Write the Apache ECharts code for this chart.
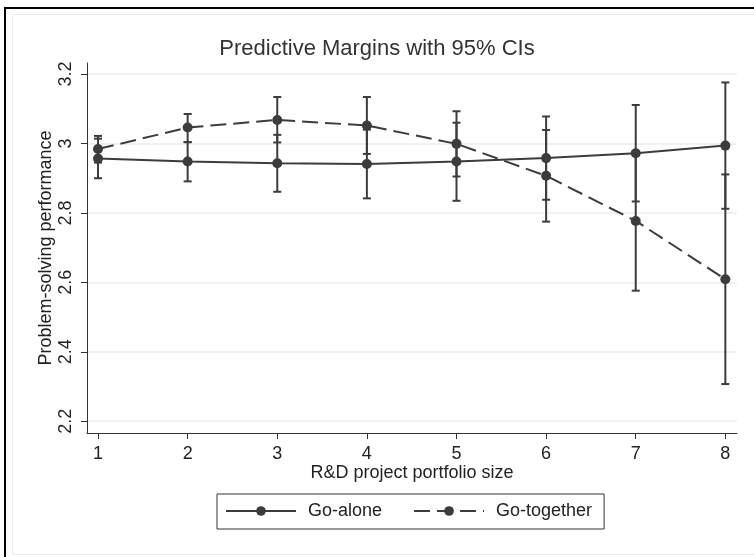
<!DOCTYPE html>
<html>
<head>
<meta charset="utf-8">
<script src="https://cdn.jsdelivr.net/npm/echarts@6/dist/echarts.min.js"></script>
<style>
html,body{margin:0;padding:0;background:#fff;}
#chart{width:754px;height:557px;}
</style>
</head>
<body>
<div id="chart"></div>
<script>
var portfolioSize = [1, 2, 3, 4, 5, 6, 7, 8];
var yTicks = [2.2, 2.4, 2.6, 2.8, 3.0, 3.2];

var aloneMean = [2.957, 2.948, 2.943, 2.941, 2.948, 2.958, 2.972, 2.994];
var aloneLow  = [2.900, 2.891, 2.861, 2.842, 2.835, 2.838, 2.833, 2.812];
var aloneHigh = [3.014, 3.004, 3.025, 3.040, 3.060, 3.078, 3.111, 3.176];

var togMean = [2.984, 3.046, 3.068, 3.052, 2.999, 2.907, 2.777, 2.609];
var togLow  = [2.945, 3.004, 3.003, 2.970, 2.905, 2.775, 2.576, 2.307];
var togHigh = [3.022, 3.085, 3.134, 3.134, 3.093, 3.039, 2.978, 2.911];

var FONT = 'Liberation Sans, Arial, sans-serif';
var INK = '#3c3c3c';

function pts(mean) { return portfolioSize.map(function (x, i) { return [x, mean[i]]; }); }
function ci(low, high) { return portfolioSize.map(function (x, i) { return [x, low[i], high[i]]; }); }

function renderCI(params, api) {
  var x = api.value(0);
  var lo = api.coord([x, api.value(1)]);
  var hi = api.coord([x, api.value(2)]);
  var hw = 4;
  var style = { stroke: INK, lineWidth: 2 };
  return {
    type: 'group',
    children: [
      { type: 'line', shape: { x1: lo[0], y1: lo[1], x2: hi[0], y2: hi[1] }, style: style },
      { type: 'line', shape: { x1: lo[0] - hw, y1: lo[1], x2: lo[0] + hw, y2: lo[1] }, style: style },
      { type: 'line', shape: { x1: hi[0] - hw, y1: hi[1], x2: hi[0] + hw, y2: hi[1] }, style: style }
    ]
  };
}

var chart = echarts.init(document.getElementById('chart'), null, { renderer: 'canvas' });

chart.setOption({
  backgroundColor: '#fff',
  animation: false,
  title: {
    text: 'Predictive Margins with 95% CIs',
    left: 'center',
    top: 33,
    textStyle: { fontFamily: FONT, fontSize: 22, fontWeight: 'normal', color: '#333' }
  },
  graphic: [
    { type: 'line', shape: { x1: 5, y1: 7, x2: 5, y2: 557 }, style: { stroke: '#000', lineWidth: 2 } },
    { type: 'line', shape: { x1: 4, y1: 8, x2: 754, y2: 8 }, style: { stroke: '#000', lineWidth: 2 } },
    { type: 'line', shape: { x1: 12.5, y1: 14, x2: 12.5, y2: 554 }, style: { stroke: '#ececec', lineWidth: 1 } },
    { type: 'line', shape: { x1: 12, y1: 14.5, x2: 754, y2: 14.5 }, style: { stroke: '#ececec', lineWidth: 1 } },
    { type: 'line', shape: { x1: 12, y1: 554.5, x2: 754, y2: 554.5 }, style: { stroke: '#ececec', lineWidth: 1 } }
  ],
  legend: {
    data: ['Go-alone', 'Go-together'],
    left: 217,
    top: 494,
    orient: 'horizontal',
    padding: [8, 12, 9, 8],
    itemWidth: 70,
    itemHeight: 12,
    itemGap: 31,
    borderColor: '#333',
    borderWidth: 1,
    textStyle: { fontFamily: FONT, fontSize: 18, color: '#222', padding: [0, 0, 0, 7] }
  },
  grid: { left: 87, right: 17, top: 63, bottom: 124 },
  xAxis: {
    type: 'value',
    min: 0.877,
    max: 8.13,
    name: 'R&D project portfolio size',
    nameLocation: 'middle',
    nameGap: 31,
    nameMoveOverlap: false,
    nameTextStyle: { fontFamily: FONT, fontSize: 18, color: '#222' },
    axisLine: { show: true, lineStyle: { color: '#333', width: 1 } },
    axisTick: { show: true, length: 6, customValues: portfolioSize, lineStyle: { color: '#333' } },
    axisLabel: { customValues: portfolioSize, margin: 12, fontFamily: FONT, fontSize: 18, color: '#222' },
    splitLine: { show: false }
  },
  yAxis: {
    type: 'value',
    min: 2.166,
    max: 3.232,
    name: 'Problem-solving performance',
    nameLocation: 'middle',
    nameGap: 32,
    nameMoveOverlap: false,
    nameRotate: 90,
    nameTextStyle: { fontFamily: FONT, fontSize: 18, color: '#222' },
    axisLine: { show: true, lineStyle: { color: '#333', width: 1 } },
    axisTick: { show: true, length: 6, customValues: yTicks, lineStyle: { color: '#333' } },
    axisLabel: { customValues: yTicks, rotate: 90, margin: 12, fontFamily: FONT, fontSize: 18, color: '#222',
      formatter: function (v) { return String(Math.round(v * 10) / 10); } },
    splitLine: { show: true, lineStyle: { color: '#ececec', width: 1.5 } }
  },
  series: [
    { name: 'ci-alone', type: 'custom', renderItem: renderCI, data: ci(aloneLow, aloneHigh), z: 2, silent: true },
    { name: 'ci-together', type: 'custom', renderItem: renderCI, data: ci(togLow, togHigh), z: 2, silent: true },
    {
      name: 'Go-alone', type: 'line', data: pts(aloneMean), z: 3,
      symbol: 'circle', symbolSize: 10,
      itemStyle: { color: INK },
      lineStyle: { color: INK, width: 2, type: 'solid' }
    },
    {
      name: 'Go-together', type: 'line', data: pts(togMean), z: 3,
      symbol: 'circle', symbolSize: 10,
      itemStyle: { color: INK },
      lineStyle: { color: INK, width: 2, type: [16, 7] }
    }
  ]
});
</script>
</body>
</html>
